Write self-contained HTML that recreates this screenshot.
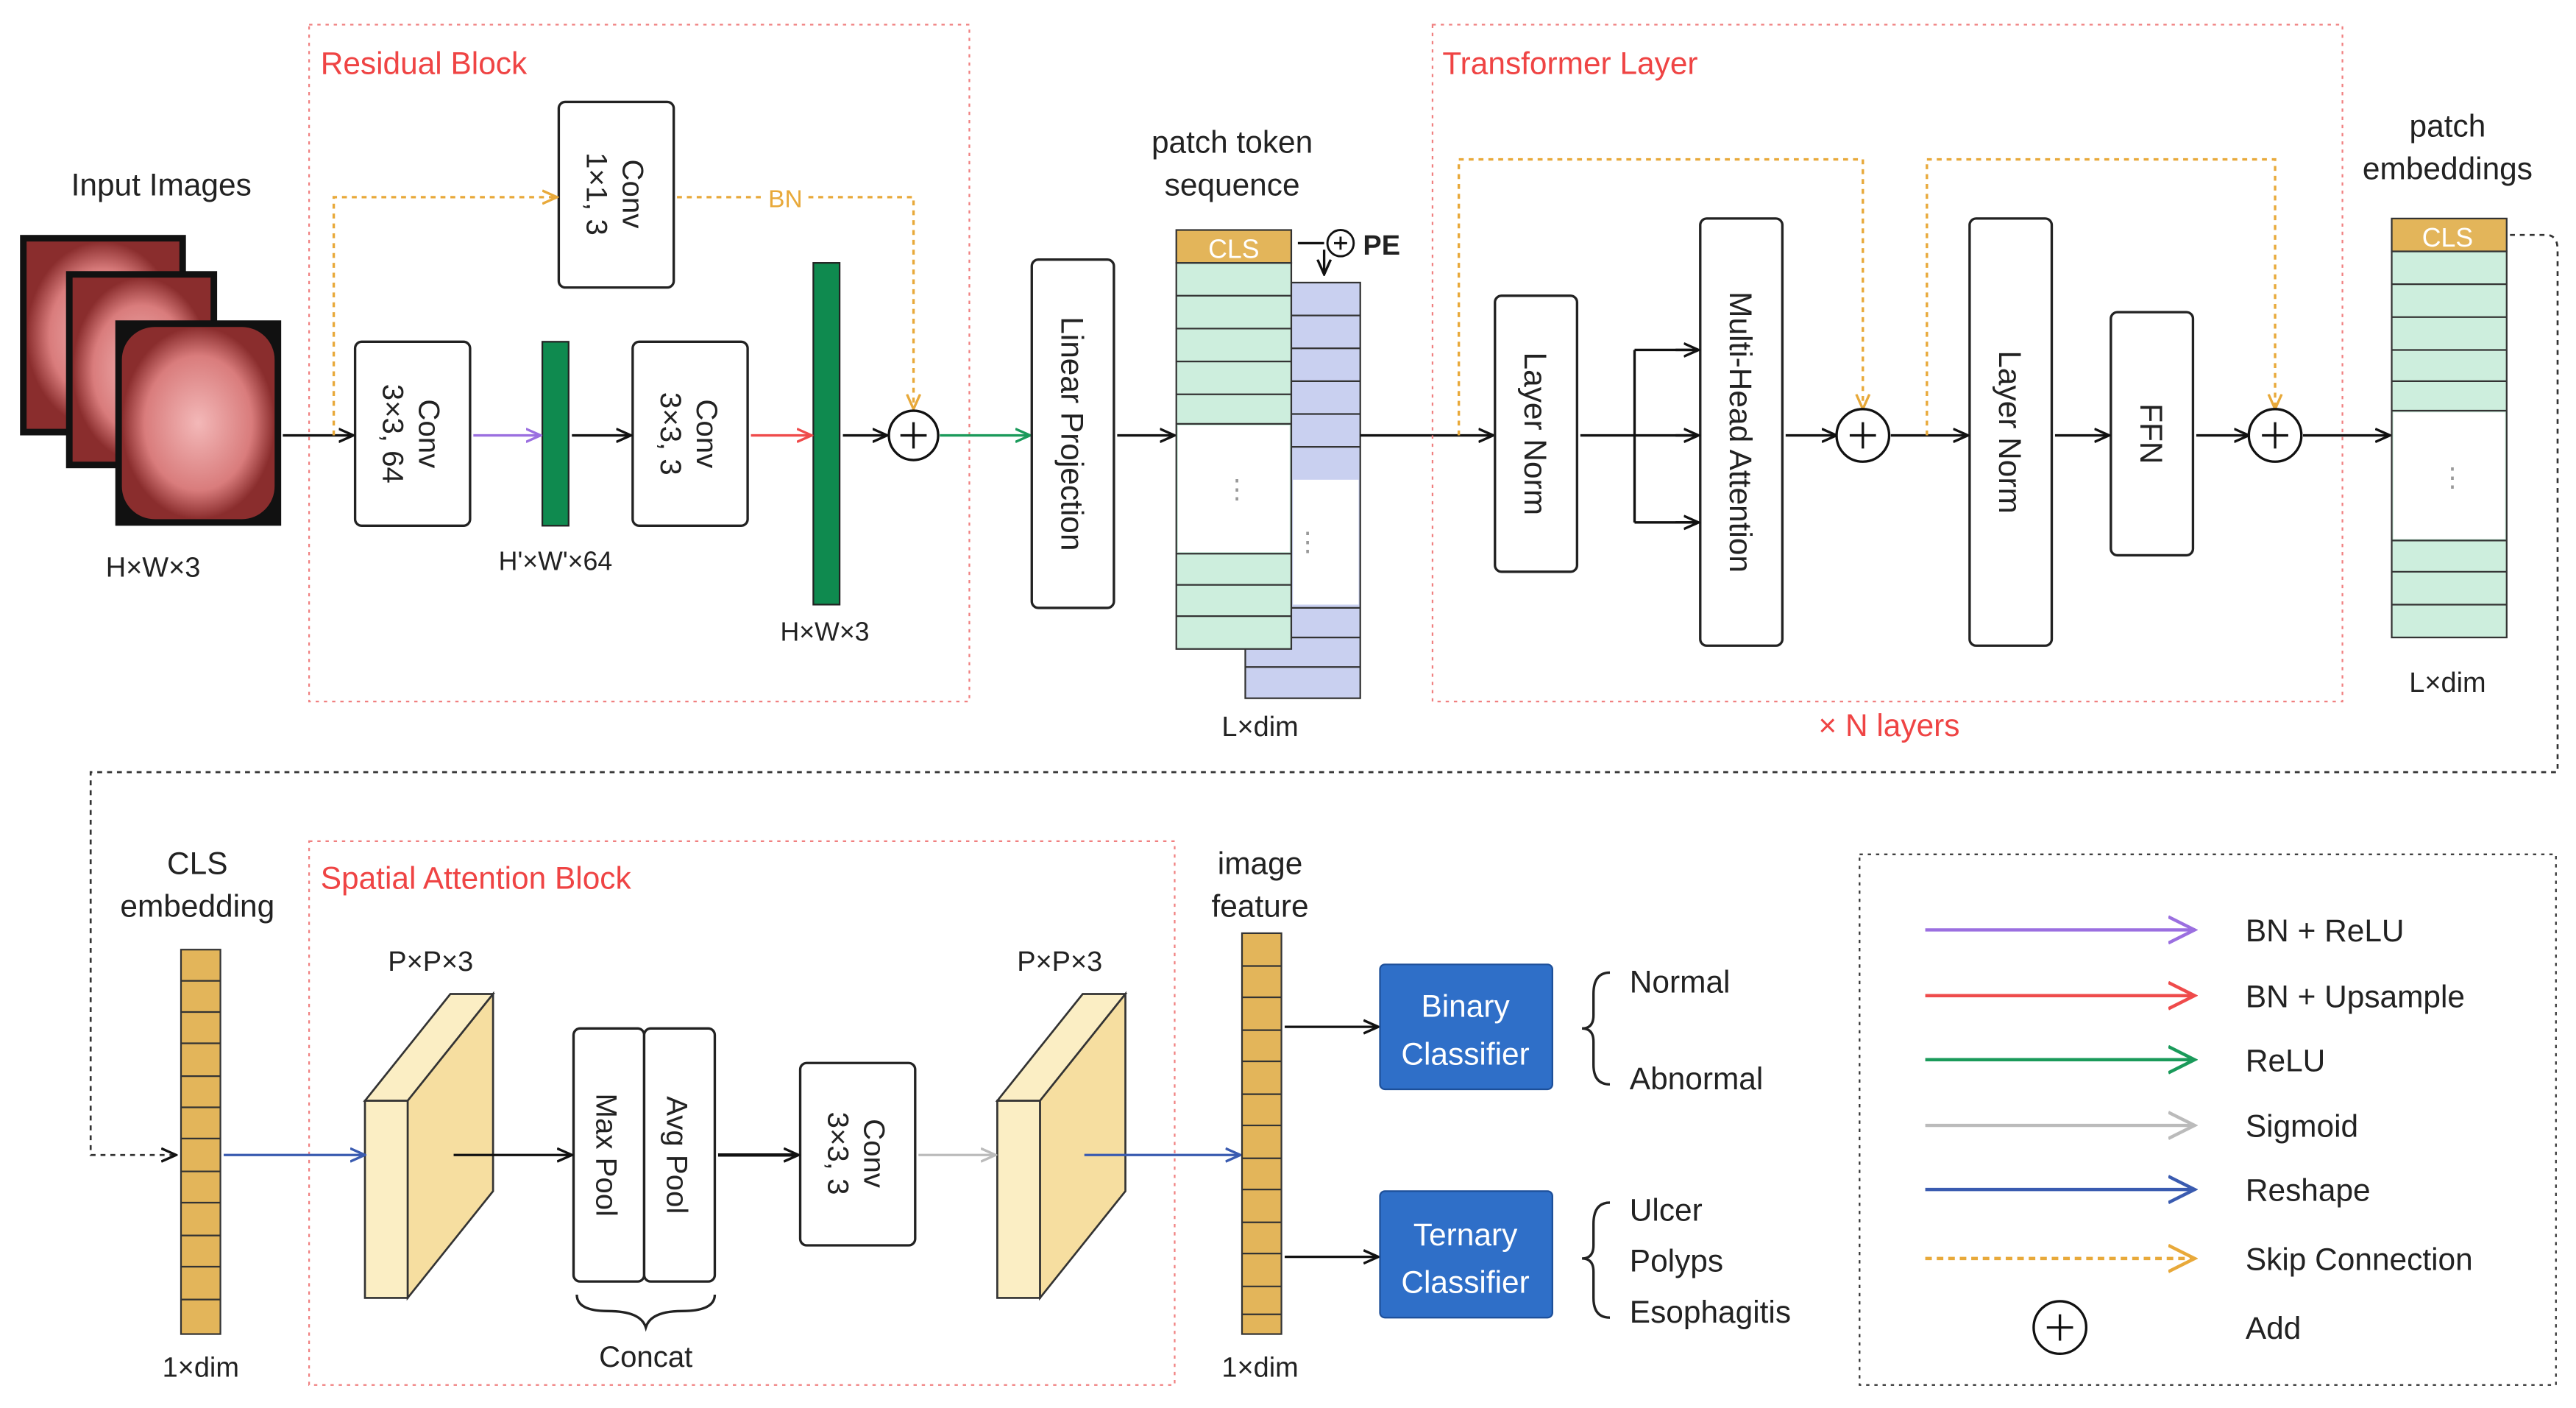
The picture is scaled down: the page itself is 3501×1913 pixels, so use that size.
<!DOCTYPE html>
<html><head><meta charset="utf-8"><style>html,body{margin:0;padding:0;background:#fff}svg{display:block}</style></head><body>
<svg width="3501" height="1913" viewBox="0 0 1568 857" xmlns="http://www.w3.org/2000/svg" font-family="Liberation Sans, sans-serif">
<defs>
<marker id="ak" markerWidth="10" markerHeight="10" refX="8" refY="5" orient="auto" markerUnits="userSpaceOnUse"><path d="M0,1 L9,5 L0,9" fill="none" stroke="#111" stroke-width="1.5"/></marker>
<marker id="ap" markerWidth="10" markerHeight="10" refX="8" refY="5" orient="auto" markerUnits="userSpaceOnUse"><path d="M0,1 L9,5 L0,9" fill="none" stroke="#9b6fe0" stroke-width="1.5"/></marker>
<marker id="ar" markerWidth="10" markerHeight="10" refX="8" refY="5" orient="auto" markerUnits="userSpaceOnUse"><path d="M0,1 L9,5 L0,9" fill="none" stroke="#ef4b4b" stroke-width="1.5"/></marker>
<marker id="ag" markerWidth="10" markerHeight="10" refX="8" refY="5" orient="auto" markerUnits="userSpaceOnUse"><path d="M0,1 L9,5 L0,9" fill="none" stroke="#1a9a5a" stroke-width="1.5"/></marker>
<marker id="ay" markerWidth="10" markerHeight="10" refX="8" refY="5" orient="auto" markerUnits="userSpaceOnUse"><path d="M0,1 L9,5 L0,9" fill="none" stroke="#bbb" stroke-width="1.5"/></marker>
<marker id="ab" markerWidth="10" markerHeight="10" refX="8" refY="5" orient="auto" markerUnits="userSpaceOnUse"><path d="M0,1 L9,5 L0,9" fill="none" stroke="#3a5bb0" stroke-width="1.5"/></marker>
<marker id="ao" markerWidth="10" markerHeight="10" refX="8" refY="5" orient="auto" markerUnits="userSpaceOnUse"><path d="M0,1 L9,5 L0,9" fill="none" stroke="#e8a93a" stroke-width="1.5"/></marker>
<marker id="akL" markerWidth="18" markerHeight="18" refX="15" refY="9" orient="auto" markerUnits="userSpaceOnUse"><path d="M0,1 L16,9 L0,17" fill="none" stroke="context-stroke" stroke-width="2"/></marker>
<radialGradient id="pink"><stop offset="0" stop-color="#f3b8b8"/><stop offset="0.7" stop-color="#d97c7c"/><stop offset="1" stop-color="#8a2d2d"/></radialGradient>
</defs>
<g font-size="19" fill="#222" text-anchor="middle">
<!-- input images -->
<text x="98" y="119">Input Images</text>
<rect x="12" y="143" width="101" height="122" fill="#111"/><rect x="16" y="147" width="93" height="114" fill="url(#pink)"/>
<rect x="40" y="165" width="92" height="120" fill="#111"/><rect x="44" y="169" width="84" height="112" fill="url(#pink)"/>
<rect x="70" y="195" width="101" height="125" fill="#111"/><rect x="74" y="199" width="93" height="117" rx="20" fill="url(#pink)"/>
<text x="93" y="351" font-size="17">H×W×3</text>
<!-- Residual block -->
<rect x="188" y="15" width="402" height="412" fill="none" stroke="#f08080" stroke-dasharray="2,3"/>
<text x="195" y="45" text-anchor="start" fill="#ef4444">Residual Block</text>
<rect x="216" y="208" width="70" height="112" rx="4" fill="#fff" stroke="#222" stroke-width="1.5"/>
<text transform="translate(251,264) rotate(90)" font-size="18"><tspan x="0" y="-4">Conv</tspan><tspan x="0" y="18">3×3, 64</tspan></text>
<rect x="340" y="62" width="70" height="113" rx="4" fill="#fff" stroke="#222" stroke-width="1.5"/>
<text transform="translate(375,118) rotate(90)" font-size="18"><tspan x="0" y="-4">Conv</tspan><tspan x="0" y="18">1×1, 3</tspan></text>
<rect x="330" y="208" width="16" height="112" fill="#0f8a4f" stroke="#222"/>
<rect x="385" y="208" width="70" height="112" rx="4" fill="#fff" stroke="#222" stroke-width="1.5"/>
<text transform="translate(420,264) rotate(90)" font-size="18"><tspan x="0" y="-4">Conv</tspan><tspan x="0" y="18">3×3, 3</tspan></text>
<rect x="495" y="160" width="16" height="208" fill="#0f8a4f" stroke="#222"/>
<text x="338" y="347" font-size="16">H'×W'×64</text>
<text x="502" y="390" font-size="16">H×W×3</text>
<g stroke-width="1.5" fill="none">
<line x1="172" y1="265" x2="214" y2="265" stroke="#111" marker-end="url(#ak)"/>
<line x1="288" y1="265" x2="328" y2="265" stroke="#9b6fe0" marker-end="url(#ap)"/>
<line x1="348" y1="265" x2="383" y2="265" stroke="#111" marker-end="url(#ak)"/>
<line x1="457" y1="265" x2="493" y2="265" stroke="#ef4b4b" marker-end="url(#ar)"/>
<line x1="513" y1="265" x2="539" y2="265" stroke="#111" marker-end="url(#ak)"/>
<line x1="572" y1="265" x2="626" y2="265" stroke="#1a9a5a" marker-end="url(#ag)"/>
<path d="M203,265 V120 H338" stroke="#e8a93a" stroke-dasharray="3,3" marker-end="url(#ao)"/>
<path d="M412,120 H464 M492,120 H556 V248" stroke="#e8a93a" stroke-dasharray="3,3" marker-end="url(#ao)"/>
</g>
<text x="478" y="126" font-size="15" fill="#e8a93a">BN</text>
<g fill="#fff" stroke="#111" stroke-width="1.5"><circle cx="556" cy="265" r="15"/><path d="M548,265 H564 M556,257 V273"/></g>
<!-- linear projection -->
<rect x="628" y="158" width="50" height="212" rx="4" fill="#fff" stroke="#222" stroke-width="1.5"/>
<text transform="translate(653,264) rotate(90)" y="7" font-size="19">Linear Projection</text>
<line x1="680" y1="265" x2="714" y2="265" stroke="#111" stroke-width="1.5" marker-end="url(#ak)"/>
<text x="750" y="93">patch token</text><text x="750" y="119">sequence</text>
<!-- blue column -->
<rect x="758" y="172" width="70" height="253" fill="#c9d0f0" stroke="#333"/>
<g stroke="#333"><line x1="786" y1="192" x2="828" y2="192"/><line x1="786" y1="212" x2="828" y2="212"/><line x1="786" y1="232" x2="828" y2="232"/><line x1="786" y1="252" x2="828" y2="252"/><line x1="786" y1="272" x2="828" y2="272"/><line x1="786" y1="370" x2="828" y2="370"/><line x1="786" y1="388" x2="828" y2="388"/><line x1="758" y1="406" x2="828" y2="406"/></g>
<rect x="787" y="292" width="40" height="76" fill="#fff"/>
<text x="796" y="335" font-size="16" fill="#999">⋮</text>
<!-- green column -->
<rect x="716" y="160" width="70" height="235" fill="#cdeedd" stroke="#333"/>
<rect x="716" y="140" width="70" height="20" fill="#e3b55a" stroke="#333"/>
<text x="751" y="157" font-size="16" fill="#fff">CLS</text>
<g stroke="#333"><line x1="716" y1="180" x2="786" y2="180"/><line x1="716" y1="200" x2="786" y2="200"/><line x1="716" y1="220" x2="786" y2="220"/><line x1="716" y1="240" x2="786" y2="240"/><line x1="716" y1="258" x2="786" y2="258"/><line x1="716" y1="337" x2="786" y2="337"/><line x1="716" y1="356" x2="786" y2="356"/><line x1="716" y1="375" x2="786" y2="375"/></g>
<rect x="717" y="259" width="68" height="77" fill="#fff"/>
<text x="753" y="303" font-size="16" fill="#999">⋮</text>
<g fill="#fff" stroke="#111" stroke-width="1.3"><circle cx="816" cy="148" r="8"/><path d="M812,148 H820 M816,144 V152"/></g>
<text x="841" y="155" font-size="17" font-weight="bold">PE</text>
<path d="M806,148 H790 M806,152 V166" stroke="#111" stroke-width="1.5" fill="none" marker-end="url(#ak)"/>
<text x="767" y="448" font-size="17">L×dim</text>
<line x1="828" y1="265" x2="908" y2="265" stroke="#111" stroke-width="1.5" marker-end="url(#ak)"/>
<!-- transformer -->
<rect x="872" y="15" width="554" height="412" fill="none" stroke="#f08080" stroke-dasharray="2,3"/>
<text x="878" y="45" text-anchor="start" fill="#ef4444">Transformer Layer</text>
<text x="1150" y="448" fill="#ef4444">× N layers</text>
<rect x="910" y="180" width="50" height="168" rx="4" fill="#fff" stroke="#222" stroke-width="1.5"/>
<text transform="translate(935,264) rotate(90)" y="7">Layer Norm</text>
<rect x="1035" y="133" width="50" height="260" rx="4" fill="#fff" stroke="#222" stroke-width="1.5"/>
<text transform="translate(1060,263) rotate(90)" y="7">Multi-Head Attention</text>
<rect x="1199" y="133" width="50" height="260" rx="4" fill="#fff" stroke="#222" stroke-width="1.5"/>
<text transform="translate(1224,263) rotate(90)" y="7">Layer Norm</text>
<rect x="1285" y="190" width="50" height="148" rx="4" fill="#fff" stroke="#222" stroke-width="1.5"/>
<text transform="translate(1310,264) rotate(90)" y="7">FFN</text>
<g stroke-width="1.5" fill="none">
<path d="M962,265 H995 M995,213 V318 M995,213 H1033 M995,265 H1033 M995,318 H1033" stroke="#111"/>
<line x1="1020" y1="213" x2="1033" y2="213" stroke="#111" marker-end="url(#ak)"/>
<line x1="1020" y1="265" x2="1033" y2="265" stroke="#111" marker-end="url(#ak)"/>
<line x1="1020" y1="318" x2="1033" y2="318" stroke="#111" marker-end="url(#ak)"/>
<line x1="1087" y1="265" x2="1117" y2="265" stroke="#111" marker-end="url(#ak)"/>
<line x1="1151" y1="265" x2="1197" y2="265" stroke="#111" marker-end="url(#ak)"/>
<line x1="1251" y1="265" x2="1283" y2="265" stroke="#111" marker-end="url(#ak)"/>
<line x1="1337" y1="265" x2="1368" y2="265" stroke="#111" marker-end="url(#ak)"/>
<line x1="1402" y1="265" x2="1454" y2="265" stroke="#111" marker-end="url(#ak)"/>
<path d="M888,265 V97 H1134 V248" stroke="#e8a93a" stroke-dasharray="3,3" marker-end="url(#ao)"/>
<path d="M1173,265 V97 H1385 V248" stroke="#e8a93a" stroke-dasharray="3,3" marker-end="url(#ao)"/>
</g>
<g fill="#fff" stroke="#111" stroke-width="1.5"><circle cx="1134" cy="265" r="16"/><path d="M1126,265 H1142 M1134,257 V273"/><circle cx="1385" cy="265" r="16"/><path d="M1377,265 H1393 M1385,257 V273"/></g>
<!-- patch embeddings -->
<text x="1490" y="83">patch</text><text x="1490" y="109">embeddings</text>
<rect x="1456" y="153" width="70" height="235" fill="#cdeedd" stroke="#333"/>
<rect x="1456" y="133" width="70" height="20" fill="#e3b55a" stroke="#333"/>
<text x="1490" y="150" font-size="16" fill="#fff">CLS</text>
<g stroke="#333"><line x1="1456" y1="173" x2="1526" y2="173"/><line x1="1456" y1="193" x2="1526" y2="193"/><line x1="1456" y1="213" x2="1526" y2="213"/><line x1="1456" y1="232" x2="1526" y2="232"/><line x1="1456" y1="250" x2="1526" y2="250"/><line x1="1456" y1="329" x2="1526" y2="329"/><line x1="1456" y1="348" x2="1526" y2="348"/><line x1="1456" y1="368" x2="1526" y2="368"/></g>
<rect x="1457" y="251" width="68" height="77" fill="#fff"/>
<text x="1493" y="296" font-size="16" fill="#999">⋮</text>
<text x="1490" y="421" font-size="17">L×dim</text>
<path d="M1528,143 H1550 Q1557,143 1557,152 V470 H55 V703 H106" fill="none" stroke="#333" stroke-width="1.2" stroke-dasharray="3,3" marker-end="url(#ak)"/>
<!-- bottom -->
<text x="120" y="532">CLS</text><text x="120" y="558">embedding</text>
<rect x="110" y="578" width="24" height="234" fill="#e3b55a" stroke="#333"/>
<g stroke="#333"><line x1="110" y1="597" x2="134" y2="597"/><line x1="110" y1="616" x2="134" y2="616"/><line x1="110" y1="635" x2="134" y2="635"/><line x1="110" y1="655" x2="134" y2="655"/><line x1="110" y1="674" x2="134" y2="674"/><line x1="110" y1="693" x2="134" y2="693"/><line x1="110" y1="713" x2="134" y2="713"/><line x1="110" y1="732" x2="134" y2="732"/><line x1="110" y1="752" x2="134" y2="752"/><line x1="110" y1="771" x2="134" y2="771"/><line x1="110" y1="791" x2="134" y2="791"/></g>
<text x="122" y="838" font-size="17">1×dim</text>
<rect x="188" y="512" width="527" height="331" fill="none" stroke="#f08080" stroke-dasharray="2,3"/>
<text x="195" y="541" text-anchor="start" fill="#ef4444">Spatial Attention Block</text>
<g stroke="#333" stroke-width="1.2" fill="#fbeec4">
<path d="M222,670 L274,605 H300 L248,670 Z"/><path d="M248,670 L300,605 V725 L248,790 Z" fill="#f6dea0"/><rect x="222" y="670" width="26" height="120"/>
<path d="M607,670 L659,605 H685 L633,670 Z"/><path d="M633,670 L685,605 V725 L633,790 Z" fill="#f6dea0"/><rect x="607" y="670" width="26" height="120"/>
</g>
<text x="262" y="591" font-size="17">P×P×3</text><text x="645" y="591" font-size="17">P×P×3</text>
<rect x="349" y="626" width="43" height="154" rx="4" fill="#fff" stroke="#222" stroke-width="1.5"/>
<rect x="392" y="626" width="43" height="154" rx="4" fill="#fff" stroke="#222" stroke-width="1.5"/>
<text transform="translate(370,703) rotate(90)" y="7" font-size="18">Max Pool</text>
<text transform="translate(413,703) rotate(90)" y="7" font-size="18">Avg Pool</text>
<path d="M351,788 Q351,798 370,798 Q390,798 393,808 Q396,798 415,798 Q435,798 435,788" fill="none" stroke="#222" stroke-width="1.5"/>
<text x="393" y="832" font-size="18">Concat</text>
<rect x="487" y="647" width="70" height="111" rx="4" fill="#fff" stroke="#222" stroke-width="1.5"/>
<text transform="translate(522,702) rotate(90)" font-size="18"><tspan x="0" y="-4">Conv</tspan><tspan x="0" y="18">3×3, 3</tspan></text>
<g stroke-width="1.5" fill="none">
<line x1="136" y1="703" x2="221" y2="703" stroke="#3a5bb0" marker-end="url(#ab)"/>
<line x1="276" y1="703" x2="347" y2="703" stroke="#111" marker-end="url(#ak)"/>
<line x1="437" y1="703" x2="485" y2="703" stroke="#111" stroke-width="2" marker-end="url(#ak)"/>
<line x1="559" y1="703" x2="605" y2="703" stroke="#bbb" marker-end="url(#ay)"/>
<line x1="660" y1="703" x2="754" y2="703" stroke="#3a5bb0" marker-end="url(#ab)"/>
<line x1="782" y1="625" x2="838" y2="625" stroke="#111" marker-end="url(#ak)"/>
<line x1="782" y1="765" x2="838" y2="765" stroke="#111" marker-end="url(#ak)"/>
</g>
<text x="767" y="532">image</text><text x="767" y="558">feature</text>
<rect x="756" y="568" width="24" height="244" fill="#e3b55a" stroke="#333"/>
<g stroke="#333"><line x1="756" y1="588" x2="780" y2="588"/><line x1="756" y1="607" x2="780" y2="607"/><line x1="756" y1="627" x2="780" y2="627"/><line x1="756" y1="646" x2="780" y2="646"/><line x1="756" y1="666" x2="780" y2="666"/><line x1="756" y1="685" x2="780" y2="685"/><line x1="756" y1="705" x2="780" y2="705"/><line x1="756" y1="724" x2="780" y2="724"/><line x1="756" y1="744" x2="780" y2="744"/><line x1="756" y1="763" x2="780" y2="763"/><line x1="756" y1="783" x2="780" y2="783"/><line x1="756" y1="800" x2="780" y2="800"/></g>
<text x="767" y="838" font-size="17">1×dim</text>
<rect x="840" y="587" width="105" height="76" rx="3" fill="#2f6fc8" stroke="#1d4f99"/>
<text x="892" y="619" fill="#fff">Binary</text><text x="892" y="648" fill="#fff">Classifier</text>
<rect x="840" y="725" width="105" height="77" rx="3" fill="#2f6fc8" stroke="#1d4f99"/>
<text x="892" y="758" fill="#fff">Ternary</text><text x="892" y="787" fill="#fff">Classifier</text>
<g fill="none" stroke="#222" stroke-width="1.5">
<path d="M980,592 Q970,592 970,605 V618 Q970,626 963,626 Q970,626 970,634 V648 Q970,660 980,660"/>
<path d="M980,732 Q970,732 970,745 V758 Q970,766 963,766 Q970,766 970,774 V790 Q970,802 980,802"/>
</g>
<g text-anchor="start">
<text x="992" y="604">Normal</text><text x="992" y="663">Abnormal</text>
<text x="992" y="743">Ulcer</text><text x="992" y="774">Polyps</text><text x="992" y="805">Esophagitis</text>
</g>
<!-- legend -->
<rect x="1132" y="520" width="424" height="323" fill="none" stroke="#333" stroke-dasharray="2,3"/>
<g stroke-width="2" fill="none">
<line x1="1172" y1="566" x2="1335" y2="566" stroke="#9b6fe0" marker-end="url(#akL)"/>
<line x1="1172" y1="606" x2="1335" y2="606" stroke="#ef4b4b" marker-end="url(#akL)"/>
<line x1="1172" y1="645" x2="1335" y2="645" stroke="#1a9a5a" marker-end="url(#akL)"/>
<line x1="1172" y1="685" x2="1335" y2="685" stroke="#bbb" marker-end="url(#akL)"/>
<line x1="1172" y1="724" x2="1335" y2="724" stroke="#3a5bb0" marker-end="url(#akL)"/>
<line x1="1172" y1="766" x2="1335" y2="766" stroke="#e8a93a" stroke-dasharray="4,3" marker-end="url(#akL)"/>
</g>
<g fill="#fff" stroke="#111" stroke-width="1.5"><circle cx="1254" cy="808" r="16"/><path d="M1246,808 H1262 M1254,800 V816"/></g>
<g text-anchor="start">
<text x="1367" y="573">BN + ReLU</text><text x="1367" y="613">BN + Upsample</text><text x="1367" y="652">ReLU</text>
<text x="1367" y="692">Sigmoid</text><text x="1367" y="731">Reshape</text><text x="1367" y="773">Skip Connection</text><text x="1367" y="815">Add</text>
</g>
</g>
</svg>
</body></html>
